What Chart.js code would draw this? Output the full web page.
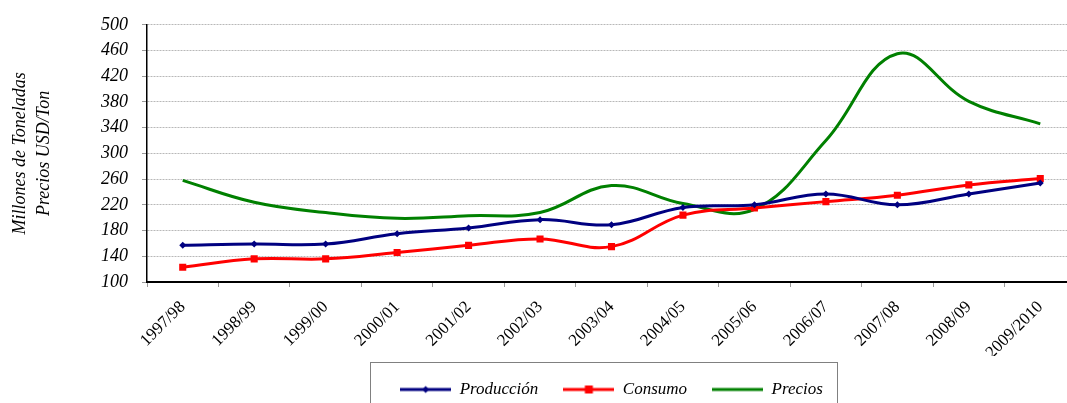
<!DOCTYPE html>
<html><head><meta charset="utf-8">
<script src="https://cdn.jsdelivr.net/npm/chart.js@4"></script>
<style>
html,body{margin:0;padding:0;overflow:hidden;background:#fff;width:1067px;height:403px}
#wrap{position:absolute;left:0;top:0;width:1081px;height:408px}
</style>
</head><body><div id="wrap"><canvas id="c" width="1081" height="408"></canvas></div>
<script>
const categories = ['1997/98','1998/99','1999/00','2000/01','2001/02','2002/03','2003/04','2004/05','2005/06','2006/07','2007/08','2008/09','2009/2010'];
const produccion = [157,159,159,175,184,197,189,216,220,237,220,237,254];
const consumo = [123,136,136,146,157,167,155,204,215,225,235,251,261];
const precios = [258,224,208,199,203,208,250,222,213,320,455,381,346];
const yTicks = [100,140,180,220,260,300,340,380,420,460,500];
const seriesNames = ['Producción','Consumo','Precios'];

const serif = '"Liberation Serif","Times New Roman",serif';

function legendImage(color, marker) {
  const cv = document.createElement('canvas');
  cv.width = 51; cv.height = 12;
  const g = cv.getContext('2d');
  g.strokeStyle = color; g.lineWidth = 3;
  g.beginPath(); g.moveTo(0, 6); g.lineTo(51, 6); g.stroke();
  g.fillStyle = color;
  if (marker === 'diamond') {
    g.beginPath(); g.moveTo(25.5, 2.5); g.lineTo(29, 6); g.lineTo(25.5, 9.5); g.lineTo(22, 6); g.closePath(); g.fill();
  } else if (marker === 'square') {
    g.fillRect(21.5, 2, 8, 8);
  }
  return cv;
}
const legendImgs = [legendImage('#000080','diamond'), legendImage('#ff0000','square'), legendImage('#008000', null)];

const legendBox = {
  id: 'legendBox',
  afterDraw(chart) {
    const lg = chart.legend;
    if (!lg || !lg.legendHitBoxes || !lg.legendHitBoxes.length) return;
    const hb = lg.legendHitBoxes;
    const minX = Math.min(...hb.map(h => h.left));
    const maxX = Math.max(...hb.map(h => h.left + h.width));
    const topY = Math.min(...hb.map(h => h.top));
    const ctx = chart.ctx;
    ctx.save();
    ctx.strokeStyle = '#808080';
    ctx.lineWidth = 1;
    ctx.strokeRect(Math.round(minX - 30) + 0.5, Math.round(topY - 19) + 0.5, Math.round(maxX - minX + 44), 120);
    ctx.restore();
  }
};

new Chart(document.getElementById('c'), {
  type: 'line',
  data: {
    labels: categories,
    datasets: [
      { label: seriesNames[0], data: produccion, borderColor: '#000080', backgroundColor: '#000080', borderWidth: 3,
        pointStyle: 'rectRot', pointRadius: 3.5, pointBorderWidth: 0, tension: 0.4 },
      { label: seriesNames[1], data: consumo, borderColor: '#ff0000', backgroundColor: '#ff0000', borderWidth: 3,
        pointStyle: 'rect', pointRadius: 5, pointBorderWidth: 0, tension: 0.4 },
      { label: seriesNames[2], data: precios, borderColor: '#008000', backgroundColor: '#008000', borderWidth: 3,
        pointRadius: 0, tension: 0.4 }
    ]
  },
  options: {
    responsive: false,
    animation: false,
    devicePixelRatio: 1,
    layout: { padding: { left: 0, right: 0, top: 16, bottom: 0 } },
    scales: {
      x: {
        offset: true,
        afterFit: (s) => { s.height = 74; },
        grid: { display: true, drawOnChartArea: false, drawTicks: true, tickLength: 5, offset: true, tickColor: '#999', color: '#999' },
        border: { display: true, color: '#000', width: 2 },
        ticks: { color: '#000', font: { family: serif, size: 17 }, maxRotation: 45, minRotation: 45, padding: 10, autoSkip: false }
      },
      y: {
        min: 100, max: 500,
        afterBuildTicks: (s) => { s.ticks = yTicks.map(v => ({ value: v })); },
        afterFit: (s) => { s.width = 147; },
        grid: { color: '#b8b8b8', lineWidth: 1, tickLength: 5, tickColor: '#999' },
        border: { display: true, color: '#000', width: 1.5, dash: [2, 1] },
        ticks: { color: '#000', font: { family: serif, size: 18, style: 'italic' }, padding: 14 },
        title: { display: true, text: ['Millones de Toneladas', 'Precios USD/Ton'], color: '#000',
          font: { family: serif, size: 18, style: 'italic', lineHeight: 1.35 }, padding: { top: 8, bottom: 0 } }
      }
    },
    plugins: {
      legend: {
        position: 'bottom',
        fullSize: false,
        labels: {
          usePointStyle: true,
          pointStyleWidth: 51,
          padding: 25,
          color: '#000',
          font: { family: serif, size: 17, style: 'italic' },
          generateLabels: (chart) => {
            const items = Chart.defaults.plugins.legend.labels.generateLabels(chart);
            items.forEach((it, i) => { it.pointStyle = legendImgs[i]; });
            return items;
          }
        }
      },
      tooltip: { enabled: false }
    }
  },
  plugins: [legendBox]
});
</script>
</body></html>
